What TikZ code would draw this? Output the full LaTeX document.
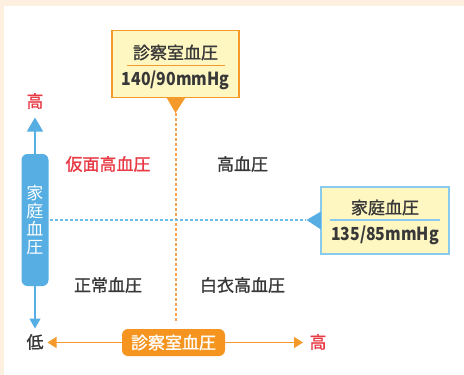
\documentclass[tikz,border=0pt]{standalone}
\usepackage{fontspec}
\setmainfont{Noto Sans CJK JP}
\newfontfamily\medfont[FakeBold=1.2]{Noto Sans CJK JP}
\newfontfamily\valfont[FakeStretch=0.88]{Noto Sans CJK JP}
\usetikzlibrary{arrows.meta}
\definecolor{cream}{HTML}{FDF0E1}
\definecolor{orng}{HTML}{F39A2B}
\definecolor{orngdot}{HTML}{F4A254}
\definecolor{orngfill}{HTML}{F5951F}
\definecolor{yel}{HTML}{FFF7C2}
\definecolor{blu}{HTML}{56AEE2}
\definecolor{lblu}{HTML}{89CBEE}
\definecolor{bludot}{HTML}{6CBCEA}
\definecolor{rd}{HTML}{E83A45}
\definecolor{txt}{HTML}{383838}
\tikzset{
  lbl/.style={inner sep=0pt, text=txt, font=\medfont\fontsize{17}{18}\selectfont},
  redlbl/.style={lbl, text=rd},
  valtxt/.style={lbl, font=\valfont\bfseries\fontsize{18}{19}\selectfont},
  infobox/.style={draw, line width=1.2pt, fill=yel, minimum width=127pt, minimum height=67pt, inner sep=0pt},
  tagbox/.style={rounded corners=6pt, inner sep=0pt, text=white, font=\medfont\fontsize{17}{18}\selectfont},
  dots/.style={line width=2pt, dash pattern=on 2.5pt off 2.5pt},
}
\begin{document}
\begin{tikzpicture}[x=1pt,y=-1pt]
\useasboundingbox (0,0) rectangle (464,375);
\fill[cream] (0,0) rectangle (464,375);
\fill[white] (4,6) rectangle (464,375);

% dotted guide lines
\coordinate (vtop) at (175.5,113);
\coordinate (vbot) at (175.5,323);
\coordinate (hl) at (50,220);
\coordinate (hr) at (306,220);
\draw[dots, orngdot] (vtop) -- (vbot);
\draw[dots, bludot] (hl) -- (hr);

% top info box
\node[infobox, draw=orng] (topbox) at (175.5,64) {};
\node[lbl] (toptitle) at (175.5,52.5) {診察室血圧};
\node[valtxt] (topval) at (175.5,80) {140/90mmHg};
\draw[orng, line width=1.3pt] (127,65.5) -- (225,65.5);
\fill[orng] (166.5,97.5) -- (185.5,97.5) -- (vtop) -- cycle;

% right info box
\node[infobox, draw=lblu, minimum width=128pt] (rightbox) at (385,220.5) {};
\node[lbl] (righttitle) at (385,207.5) {家庭血圧};
\node[valtxt] (rightval) at (385,235.5) {135/85mmHg};
\draw[lblu, line width=1.3pt] (329.5,220) -- (440,220);
\fill[blu] (321,211.5) -- (321,229.5) -- (306.5,220) -- cycle;

% quadrant labels
\node[redlbl] (masked) at (108,164) {仮面高血圧};
\node[lbl] (hyper) at (242.5,164) {高血圧};
\node[lbl] (normal) at (108,285) {正常血圧};
\node[lbl] (white) at (242.5,285) {白衣高血圧};

% vertical axis
\node[fill=blu, rounded corners=6pt, minimum width=27pt, minimum height=132pt, inner sep=0pt] (homebar) at (35,220) {};
\node[inner sep=0pt, text=white, font=\fontsize{17}{18.2}\selectfont, align=center] (hometext) at (35,220) {家\\庭\\血\\圧};
\node[redlbl] (vhigh) at (35,101) {高};
\node[lbl] (vlow) at (35,342) {低};
\coordinate (vuptip) at (35,117.5);
\coordinate (vdowntip) at (35,328.5);
\draw[blu, line width=1.3pt, -{Triangle[length=14pt, width=16pt]}] (homebar.north) -- (vuptip);
\draw[blu, line width=1.3pt, -{Triangle[length=10pt, width=11pt]}] (homebar.south) -- (vdowntip);

% horizontal axis
\node[tagbox, fill=orngfill, minimum width=103pt, minimum height=27pt] (clinictag) at (173.5,342.5) {診察室血圧};
\node[redlbl] (hhigh) at (318,342) {高};
\coordinate (hlefttip) at (47.5,342.5);
\coordinate (hrighttip) at (303,342.5);
\draw[orng, line width=1.3pt, -{Triangle[length=9pt, width=11pt]}] (clinictag.west) -- (hlefttip);
\draw[orng, line width=1.3pt, -{Triangle[length=9pt, width=11pt]}] (clinictag.east) -- (hrighttip);
\end{tikzpicture}
\end{document}
